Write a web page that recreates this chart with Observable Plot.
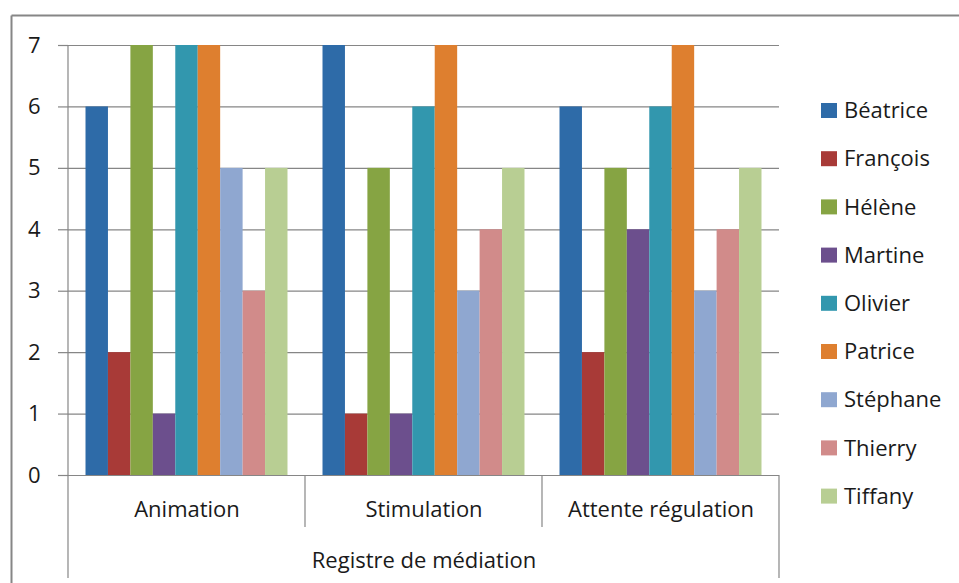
<!DOCTYPE html>
<html><head><meta charset="utf-8">
<script src="https://cdn.jsdelivr.net/npm/d3@7"></script>
<script src="https://cdn.jsdelivr.net/npm/@observablehq/plot@0.6"></script>
<style>
body{margin:0;background:#fff;}
</style>
</head><body><div id="chart"></div>
<script>
const categories = ["Animation", "Stimulation", "Attente régulation"];
const persons = ["Béatrice", "François", "Hélène", "Martine", "Olivier", "Patrice", "Stéphane", "Thierry", "Tiffany"];
const colors = ["#2E6BA8", "#A83A37", "#86A443", "#6C4F8D", "#3297AE", "#DE7F2F", "#8FA7D0", "#D18B8A", "#B8CE93"];
const animation = [6, 2, 7, 1, 7, 7, 5, 3, 5];
const stimulation = [7, 1, 5, 1, 6, 7, 3, 4, 5];
const attente = [6, 2, 5, 4, 6, 7, 3, 4, 5];
const yTicks = [0, 1, 2, 3, 4, 5, 6, 7];
const axisTitle = "Registre de médiation";

const series = [animation, stimulation, attente];
const data = [];
categories.forEach((c, i) => persons.forEach((p, j) => data.push({cat: c, person: p, value: series[i][j]})));

const FONT = "Open Sans";
const GRAY = "#868686";
const FS = 22;

const plot = Plot.plot({
  width: 959, height: 583,
  marginLeft: 68, marginRight: 180, marginTop: 45, marginBottom: 108,
  style: {fontFamily: FONT, fontSize: FS + "px", color: "#1a1a1a", background: "white", overflow: "visible"},
  fx: {domain: categories, padding: 0, round: false, label: null},
  x: {domain: persons, paddingInner: 0, paddingOuter: 0.78, round: false, axis: null},
  y: {domain: [0, 7], label: null},
  color: {domain: persons, range: colors},
  marks: [
    Plot.gridY(yTicks, {stroke: GRAY, strokeOpacity: 1, strokeWidth: 1.2}),
    Plot.barY(data, {fx: "cat", x: "person", y: "value", fill: "person"}),
    Plot.axisY(yTicks, {tickSize: 10, tickPadding: 18, stroke: GRAY, strokeWidth: 1.2, fontSize: FS, tickFormat: d => String(d)}),
    Plot.axisFx({anchor: "bottom", tickSize: 0, tickPadding: 26, label: axisTitle, labelAnchor: "center", labelOffset: 92, fontSize: FS})
  ]
});

document.getElementById("chart").appendChild(plot);

const svg = d3.select(plot);
const fx = plot.scale("fx");
const y = plot.scale("y");
const y0 = y.apply(0), yTop = y.apply(7);
const bw = fx.bandwidth;
const facetLeft = categories.map(c => fx.apply(c));
const xEnd = facetLeft[facetLeft.length - 1] + bw;

const deco = svg.append("g").attr("stroke", GRAY).attr("fill", "none");
// outer frame (top and left)
deco.append("line").attr("x1", 11.5).attr("x2", 959).attr("y1", 15.5).attr("y2", 15.5).attr("stroke-width", 2);
deco.append("line").attr("x1", 11.5).attr("x2", 11.5).attr("y1", 15.5).attr("y2", 583).attr("stroke-width", 2);
// y axis line extending into the category area
deco.append("line").attr("x1", facetLeft[0]).attr("x2", facetLeft[0]).attr("y1", yTop).attr("y2", 578).attr("stroke-width", 1.2);
// inner separators
facetLeft.slice(1).forEach(x => {
  deco.append("line").attr("x1", x).attr("x2", x).attr("y1", y0).attr("y2", 527).attr("stroke-width", 1.2);
});
// right end
deco.append("line").attr("x1", xEnd).attr("x2", xEnd).attr("y1", y0).attr("y2", 578).attr("stroke-width", 1.2);

// legend
const leg = svg.append("g").attr("font-family", FONT).attr("font-size", FS).attr("fill", "#1a1a1a").attr("text-anchor", "start");
persons.forEach((p, i) => {
  const cy = 110.5 + i * 48.2;
  leg.append("rect").attr("x", 821).attr("y", cy - 7.5).attr("width", 16).attr("height", 15).attr("fill", colors[i]);
  leg.append("text").attr("x", 844).attr("y", cy).attr("dy", "0.35em").text(p);
});
</script>
</body></html>
